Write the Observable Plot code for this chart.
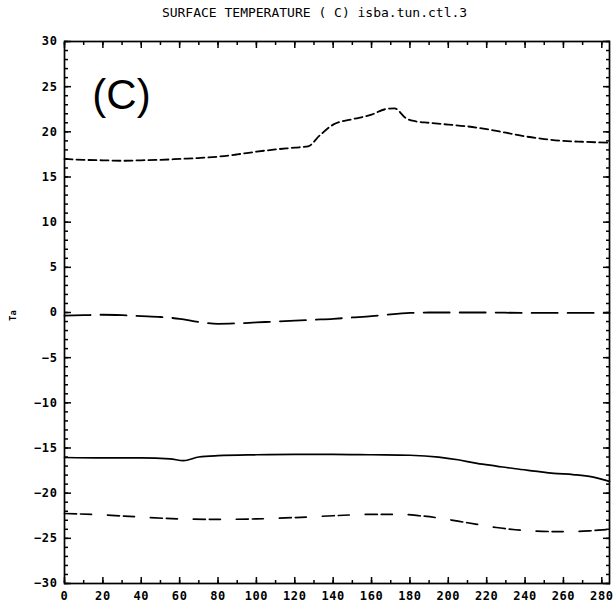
<!DOCTYPE html>
<html><head><meta charset="utf-8">
<script src="https://cdn.jsdelivr.net/npm/d3@7"></script>
<script src="https://cdn.jsdelivr.net/npm/@observablehq/plot@0.6"></script>
<style>
body{margin:0;background:#fff;}
#title{height:28px;font:13px "DejaVu Sans Mono",monospace;text-align:center;line-height:25px;padding-left:16px;box-sizing:border-box;white-space:pre;color:#000;}
g[aria-label$="tick label"] text{letter-spacing:0.6px;}
</style></head><body>
<div id="title"></div>
<div id="chart"></div>
<script>
const titleText = "SURFACE TEMPERATURE ( C) isba.tun.ctl.3";
const panelLabel = "(C)";
const yLabel = "Ta";

const xTickLabels = [0, 20, 40, 60, 80, 100, 120, 140, 160, 180, 200, 220, 240, 260, 280];
const yTickLabels = [-30, -25, -20, -15, -10, -5, 0, 5, 10, 15, 20, 25, 30];

// upper short-dashed curve
const s1X = [0, 10, 20, 30, 40, 50, 60, 70, 80, 90, 100, 110, 120, 127, 133, 140, 150, 160, 167, 172, 178, 182, 190, 200, 210, 220, 230, 240, 250, 260, 270, 284];
const s1Y = [17.0, 16.9, 16.85, 16.8, 16.85, 16.9, 17.0, 17.1, 17.25, 17.5, 17.8, 18.05, 18.25, 18.4, 19.6, 20.8, 21.4, 21.9, 22.5, 22.6, 21.5, 21.2, 21.0, 20.8, 20.6, 20.3, 19.9, 19.5, 19.2, 19.0, 18.9, 18.8];

// long-dashed curve near zero
const s2X = [0, 10, 20, 30, 40, 50, 60, 70, 80, 90, 100, 110, 120, 130, 140, 150, 160, 170, 180, 190, 200, 220, 240, 260, 284];
const s2Y = [-0.35, -0.3, -0.25, -0.3, -0.4, -0.5, -0.7, -1.05, -1.25, -1.2, -1.1, -1.0, -0.9, -0.8, -0.7, -0.55, -0.4, -0.2, -0.05, 0.0, 0.0, 0.0, -0.05, -0.05, -0.05];

// solid curve
const s3X = [0, 20, 40, 55, 62, 70, 80, 100, 120, 140, 160, 180, 195, 205, 215, 225, 235, 245, 255, 265, 275, 284];
const s3Y = [-16.05, -16.1, -16.1, -16.2, -16.4, -16.0, -15.85, -15.75, -15.7, -15.7, -15.75, -15.8, -16.0, -16.3, -16.7, -17.0, -17.3, -17.55, -17.8, -17.95, -18.2, -18.7];

// lower medium-dashed curve
const s4X = [0, 20, 40, 60, 80, 100, 120, 140, 160, 175, 185, 195, 205, 215, 225, 235, 245, 255, 265, 275, 284];
const s4Y = [-22.25, -22.4, -22.65, -22.85, -22.9, -22.85, -22.7, -22.5, -22.35, -22.35, -22.5, -22.75, -23.1, -23.45, -23.8, -24.05, -24.2, -24.25, -24.25, -24.15, -24.0];

document.getElementById("title").textContent = titleText;

const xMinor = d3.range(0, 285, 10);
const yMinor = d3.range(-30, 31, 1);
const blank = () => "";
const tk = {strokeWidth: 1.5, label: null, tickFormat: blank};

const chart = Plot.plot({
  width: 613,
  height: 579,
  marginTop: 13,
  marginBottom: 24,
  marginLeft: 64,
  marginRight: 4,
  x: {domain: [0, 284]},
  y: {domain: [-30, 30]},
  style: {fontFamily: "DejaVu Sans Mono", fontWeight: "bold", fontSize: "12px", color: "black", background: "white"},
  marks: [
    // inward ticks
    Plot.axisX(xMinor, {...tk, anchor: "bottom", tickSize: 3, dy: -3}),
    Plot.axisX(xTickLabels, {...tk, anchor: "bottom", tickSize: 6, dy: -6}),
    Plot.axisX(xMinor, {...tk, anchor: "top", tickSize: 3, dy: 3}),
    Plot.axisX(xTickLabels, {...tk, anchor: "top", tickSize: 6, dy: 6}),
    Plot.axisY(yMinor, {...tk, anchor: "left", tickSize: 4, dx: 4}),
    Plot.axisY(yTickLabels, {...tk, anchor: "left", tickSize: 7, dx: 7}),
    Plot.axisY(yMinor, {...tk, anchor: "right", tickSize: 4, dx: -4}),
    Plot.axisY(yTickLabels, {...tk, anchor: "right", tickSize: 7, dx: -7}),
    // tick labels
    Plot.axisX(xTickLabels, {anchor: "bottom", tickSize: 0, tickPadding: 8, label: null}),
    Plot.axisY(yTickLabels, {anchor: "left", tickSize: 0, tickPadding: 7, label: null}),
    Plot.frame({stroke: "black", strokeWidth: 1.7}),
    // curves
    Plot.line(s1Y, {x: s1X, y: s1Y, stroke: "black", strokeWidth: 1.8, strokeDasharray: "8,4", curve: "monotone-x"}),
    Plot.line(s2Y, {x: s2X, y: s2Y, stroke: "black", strokeWidth: 1.8, strokeDasharray: "26,10", curve: "monotone-x"}),
    Plot.line(s3Y, {x: s3X, y: s3Y, stroke: "black", strokeWidth: 1.7, curve: "monotone-x"}),
    Plot.line(s4Y, {x: s4X, y: s4Y, stroke: "black", strokeWidth: 1.7, strokeDasharray: "12,4,11,16", curve: "monotone-x"}),
    // annotations
    Plot.text([panelLabel], {frameAnchor: "top-left", dx: 57, dy: 54, textAnchor: "middle", lineAnchor: "middle", fontSize: 42, fontWeight: "normal", fontFamily: "Liberation Sans, Arial, sans-serif"}),
    Plot.text([yLabel], {frameAnchor: "left", dx: -51, dy: 3, rotate: -90, fontSize: 9, fontWeight: "bold", textAnchor: "middle", lineAnchor: "middle"})
  ]
});
document.getElementById("chart").appendChild(chart);
</script>
</body></html>
